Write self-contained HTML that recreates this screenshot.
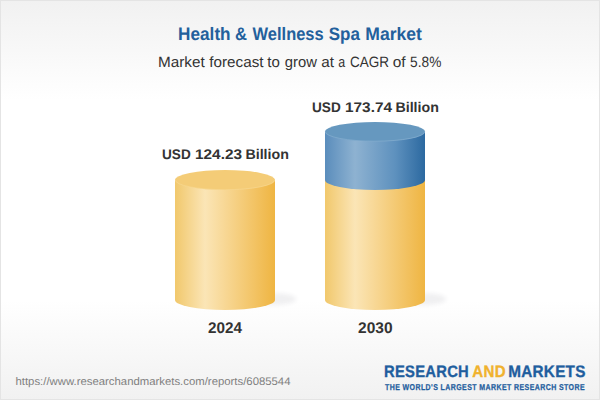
<!DOCTYPE html>
<html><head><meta charset="utf-8"><title>Health &amp; Wellness Spa Market</title>
<style>
html,body{margin:0;padding:0;width:600px;height:400px;overflow:hidden;background:#fff;}
svg{display:block;}
text{font-family:"Liberation Sans",sans-serif;text-rendering:geometricPrecision;}
</style></head>
<body>
<svg width="600" height="400" viewBox="0 0 600 400">
<defs>
  <linearGradient id="bgTop" x1="0" y1="0" x2="0" y2="1">
    <stop offset="0" stop-color="#f1f1f1"/>
    <stop offset="1" stop-color="#ffffff"/>
  </linearGradient>
  <linearGradient id="bgBot" x1="0" y1="0" x2="0" y2="1">
    <stop offset="0" stop-color="#ffffff"/>
    <stop offset="1" stop-color="#f1f1f1"/>
  </linearGradient>
  <linearGradient id="yBody" x1="0" y1="0" x2="1" y2="0">
    <stop offset="0" stop-color="#f1c86c"/>
    <stop offset="0.3" stop-color="#fbe5b6"/>
    <stop offset="1" stop-color="#efb542"/>
  </linearGradient>
  <linearGradient id="yTop" x1="0" y1="0" x2="1" y2="0">
    <stop offset="0" stop-color="#f4cc77"/>
    <stop offset="1" stop-color="#f4cc77"/>
  </linearGradient>
  <linearGradient id="bBody" x1="0" y1="0" x2="1" y2="0">
    <stop offset="0" stop-color="#5a8dbc"/>
    <stop offset="0.3" stop-color="#8eb2d1"/>
    <stop offset="0.7" stop-color="#5e91be"/>
    <stop offset="1" stop-color="#2c69a0"/>
  </linearGradient>
  <linearGradient id="bTop" x1="0" y1="0" x2="1" y2="0">
    <stop offset="0" stop-color="#6698bf"/>
    <stop offset="1" stop-color="#6698bf"/>
  </linearGradient>
  <filter id="blur" x="-50%" y="-50%" width="200%" height="200%"><feGaussianBlur stdDeviation="2"/></filter>
</defs>
<rect x="0" y="0" width="600" height="400" fill="#fff"/>
<rect x="0" y="0" width="600" height="100" fill="url(#bgTop)"/>
<rect x="0" y="300" width="600" height="100" fill="url(#bgBot)"/>
<rect x="0.5" y="0.5" width="599" height="399" fill="none" stroke="#e4e4e4" stroke-width="1"/>

<g font-size="18" font-weight="bold" fill="#23609c">
<text x="178.1" y="39.7" textLength="52.5" lengthAdjust="spacingAndGlyphs">Health</text>
<text x="234.9" y="39.7" textLength="12.0" lengthAdjust="spacingAndGlyphs">&amp;</text>
<text x="252.6" y="39.7" textLength="71.1" lengthAdjust="spacingAndGlyphs">Wellness</text>
<text x="328.8" y="39.7" textLength="31.1" lengthAdjust="spacingAndGlyphs">Spa</text>
<text x="365.3" y="39.7" textLength="56.6" lengthAdjust="spacingAndGlyphs">Market</text>
</g>
<g font-size="15" fill="#333">
<text id="s0" x="158.00" y="67" textLength="46.70" lengthAdjust="spacingAndGlyphs">Market</text>
<text id="s1" x="209.34" y="67" textLength="54.16" lengthAdjust="spacingAndGlyphs">forecast</text>
<text id="s2" x="267.34" y="67" textLength="12.54" lengthAdjust="spacingAndGlyphs">to</text>
<text id="s3" x="284.84" y="67" textLength="32.06" lengthAdjust="spacingAndGlyphs">grow</text>
<text id="s4" x="321.26" y="67" textLength="12.70" lengthAdjust="spacingAndGlyphs">at</text>
<text id="s5" x="338.14" y="67" textLength="6.90" lengthAdjust="spacingAndGlyphs">a</text>
<text id="s6" x="349.96" y="67" textLength="39.08" lengthAdjust="spacingAndGlyphs">CAGR</text>
<text id="s7" x="392.78" y="67" textLength="12.88" lengthAdjust="spacingAndGlyphs">of</text>
<text id="s8" x="410.12" y="67" textLength="31.20" lengthAdjust="spacingAndGlyphs">5.8%</text>
</g>

<ellipse cx="274" cy="299" rx="22" ry="6" fill="#334" opacity="0.07" filter="url(#blur)"/>
<ellipse cx="424" cy="299" rx="22" ry="6" fill="#334" opacity="0.07" filter="url(#blur)"/>
<!-- left cylinder -->
<path d="M175 180 L175 300 A50 10 0 0 0 275 300 L275 180 Z" fill="url(#yBody)"/>
<ellipse cx="225" cy="180" rx="50" ry="10" fill="url(#yTop)"/>
<path d="M175.3 180 A49.7 9.7 0 0 0 274.7 180" fill="none" stroke="#f8dc9c" stroke-width="0.7" opacity="0.7"/>

<!-- right cylinder -->
<path d="M325 180 L325 300 A50 10 0 0 0 425 300 L425 180 Z" fill="url(#yBody)"/>
<path d="M325 132 L325 180 A50 10 0 0 0 425 180 L425 132 Z" fill="url(#bBody)"/>
<ellipse cx="375" cy="131.7" rx="50" ry="9.8" fill="url(#bTop)"/>
<path d="M325.3 131.7 A49.7 9.5 0 0 0 424.7 131.7" fill="none" stroke="#9dbddb" stroke-width="0.7" opacity="0.6"/>

<g font-size="14" font-weight="bold" fill="#333">
<text x="162" y="159" textLength="28.7" lengthAdjust="spacingAndGlyphs">USD</text>
<text x="195" y="159" textLength="47" lengthAdjust="spacingAndGlyphs">124.23</text>
<text x="245.4" y="159" textLength="43.5" lengthAdjust="spacingAndGlyphs">Billion</text>
</g>
<g font-size="14" font-weight="bold" fill="#333">
<text x="312" y="111.5" textLength="28.7" lengthAdjust="spacingAndGlyphs">USD</text>
<text x="345" y="111.5" textLength="47" lengthAdjust="spacingAndGlyphs">173.74</text>
<text x="395.4" y="111.5" textLength="43.5" lengthAdjust="spacingAndGlyphs">Billion</text>
</g>
<text x="225" y="333" text-anchor="middle" font-size="15.5" font-weight="bold" fill="#333" textLength="34" lengthAdjust="spacingAndGlyphs">2024</text>
<text x="375.3" y="333" text-anchor="middle" font-size="15.5" font-weight="bold" fill="#333" textLength="34.5" lengthAdjust="spacingAndGlyphs">2030</text>

<text x="15.5" y="384.5" font-size="11" fill="#808080" textLength="275" lengthAdjust="spacingAndGlyphs">https://www.researchandmarkets.com/reports/6085544</text>

<g font-size="16.6" font-weight="bold" stroke-width="0.35" letter-spacing="0.3">
<text x="384" y="377.2" fill="#1f5e9e" stroke="#1f5e9e" textLength="85" lengthAdjust="spacingAndGlyphs">RESEARCH</text>
<text x="472.3" y="377.2" fill="#f0b22e" stroke="#f0b22e" textLength="33.5" lengthAdjust="spacingAndGlyphs">AND</text>
<text x="508.2" y="377.2" fill="#1f5e9e" stroke="#1f5e9e" textLength="77.5" lengthAdjust="spacingAndGlyphs">MARKETS</text>
</g>
<text x="385" y="389.6" font-size="8.5" font-weight="bold" fill="#1f5e9e" stroke="#1f5e9e" stroke-width="0.25" letter-spacing="0.5" textLength="200" lengthAdjust="spacingAndGlyphs">THE WORLD'S LARGEST MARKET RESEARCH STORE</text>
</svg>
</body></html>
